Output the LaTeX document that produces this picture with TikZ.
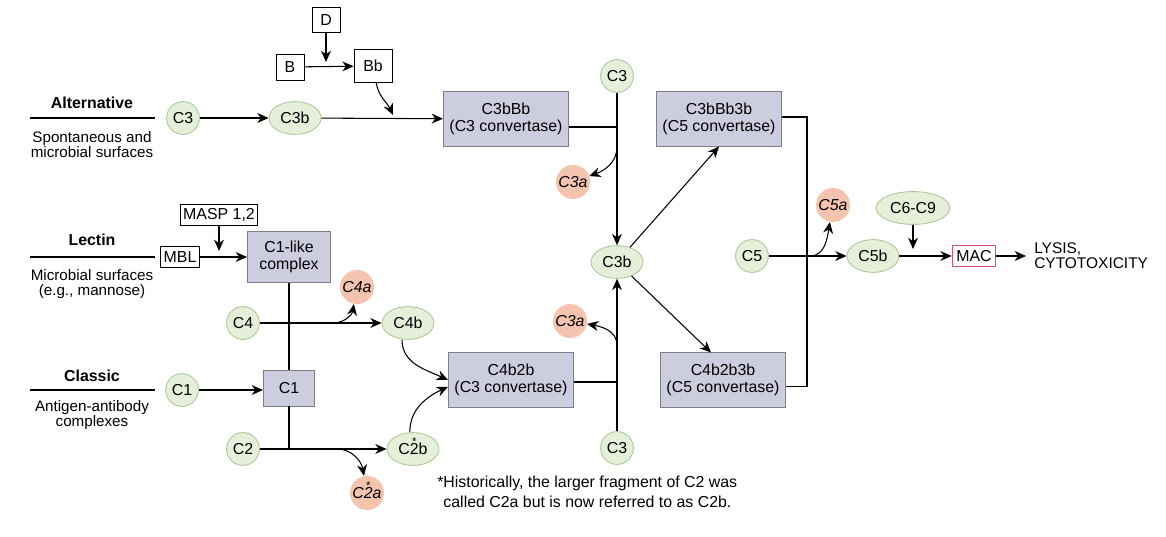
\documentclass[tikz,border=0pt]{standalone}
\usepackage{fontspec}
\setmainfont{Liberation Sans}
\usetikzlibrary{arrows.meta,shapes.geometric}
\definecolor{cmGreenFill}{HTML}{E5EFD9}
\definecolor{cmGreenLine}{HTML}{A9C795}
\definecolor{cmSalmon}{HTML}{F4C4AE}
\definecolor{cmBoxFill}{HTML}{CDCDE0}
\definecolor{cmBoxLine}{HTML}{7D7D8C}
\definecolor{cmMacRed}{HTML}{D4516B}
\newcommand{\cmFigMain}{\fontsize{11.3}{12}\selectfont}
\newcommand{\cmFigSub}{\fontsize{10.8}{10.6}\selectfont}
%% asterisk set over a single character (the renamed C2 fragments)
\newcommand{\cmStar}[1]{\setbox0\hbox{#1}%
  \rlap{\hbox to \wd0{\hss\smash{\raisebox{0.58em}{\fontsize{8}{8}\selectfont\upshape *}}\hss}}#1}
\tikzset{
  %% native proteins: small green discs; cleaved large fragments get the
  %% wider ellipse so the two read apart at a glance.
  cmprot/.style={
    circle, draw=cmGreenLine, fill=cmGreenFill, line width=0.6pt,
    inner sep=0pt, minimum size=0.82cm, font=\cmFigMain},
  cmprotw/.style={
    ellipse, draw=cmGreenLine, fill=cmGreenFill, line width=0.6pt,
    inner sep=0pt, minimum width=1.3cm, minimum height=0.82cm, font=\cmFigMain},
  %% released small fragments: no rule, italic
  cmfrag/.style={
    circle, fill=cmSalmon, inner sep=0pt, minimum size=0.85cm,
    font=\cmFigMain\itshape},
  %% enzyme complexes
  cmcplx/.style={
    rectangle, draw=cmBoxLine, fill=cmBoxFill, line width=0.7pt,
    inner sep=2pt, minimum width=3.125cm, minimum height=1.35cm,
    align=center, font=\cmFigMain},
  cmtag/.style={
    rectangle, draw=black, line width=0.6pt, inner xsep=2pt, inner ysep=1pt,
    minimum height=0.53cm, font=\cmFigMain},
  cmmac/.style={cmtag, draw=cmMacRed, inner xsep=3pt},
  cmflow/.style={-{Stealth[length=8pt,width=7pt,inset=2.5pt]}, draw=black,
    line width=0.75pt},
  cmlink/.style={draw=black, line width=0.75pt},
  cmhead/.style={font=\cmFigMain\bfseries, inner sep=0pt},
  cmsrc/.style={font=\cmFigSub, align=center, inner sep=0pt},
}

\begin{document}
\begin{tikzpicture}[x=0.025cm, y=-0.025cm]
\useasboundingbox (0,0) rectangle (1166,537);

%% ------------------------------------------------------------------
%% Coordinates are pixels of the 1166 x 537 layout, y running down.
%% ------------------------------------------------------------------

%% --- pathway headings (left) --------------------------------------
\node[cmhead] (althead) at (92,103) {Alternative};
\draw[cmlink] (30,118) -- (155,118);
\node[cmsrc]  (altsrc)  at (92,145) {Spontaneous and\\microbial surfaces};

\node[cmhead] (lechead) at (92,240) {Lectin};
\draw[cmlink] (30,257) -- (155,257);
\node[cmsrc]  (lecsrc)  at (92,284) {Microbial surfaces\\(e.g., mannose)};

\node[cmhead] (clahead) at (92,376) {Classic};
\draw[cmlink] (30,390) -- (155,390);
\node[cmsrc]  (clasrc)  at (92,415) {Antigen-antibody\\complexes};

%% --- alternative pathway ------------------------------------------
\node[cmprot]  (altc3)  at (183,118) {C3};
\node[cmprotw] (altc3b) at (295,118) {C3b};
\node[cmtag, minimum width=0.7cm, minimum height=0.63cm]  (facd)  at (326,20) {D};
\node[cmtag, minimum width=0.7cm, minimum height=0.65cm]  (facb)  at (290,67) {B};
\node[cmtag, minimum width=0.95cm, minimum height=0.83cm] (facbb) at (373,66) {Bb};
\node[cmcplx] (c3bbb) at (506,119) {C3bBb\\(C3 convertase)};

\draw[cmflow] (altc3)  -- (altc3b);
\draw[cmflow] (altc3b) -- (c3bbb);
\draw[cmflow] (facb)   -- (facbb);
\coordinate (dhit) at (326,62);
\draw[cmflow] (facd) -- (dhit);
\coordinate (bbhit) at (393,115);
\draw[cmflow] ([xshift=0.08cm]facbb.south) to[out=-80,in=115] (bbhit);

%% --- lectin pathway -----------------------------------------------
\node[cmtag] (mbl)  at (180,257) {MBL};
\node[cmtag] (masp) at (219,215) {MASP 1,2};
\node[cmcplx, minimum width=2.075cm, minimum height=1.275cm] (c1like)
  at (289,257) {C1-like\\complex};
\draw[cmflow] (mbl) -- (c1like);
\coordinate (masphit) at (219,251);
\draw[cmflow] (masp) -- (masphit);

%% --- classic pathway ----------------------------------------------
\node[cmprot] (c1) at (182,390) {C1};
\node[cmcplx, minimum width=1.275cm, minimum height=0.9cm] (c1box) at (289,388) {C1};
\draw[cmflow] (c1) -- (c1box.west |- c1);

%% C4 and C2 are cut by the C1 / C1-like enzymes
\node[cmprot]  (c4)  at (243,323) {C4};
\node[cmprotw] (c4b) at (408,323) {C4b};
\node[cmfrag]  (c4a) at (357,287) {C4a};
\draw[cmlink] (c1like) -- (c1box);
\draw[cmflow] (c4) -- (c4b);
\coordinate (c4split) at (333,323);
\draw[cmflow] (c4split) to[out=0,in=-100] (c4a);

\node[cmprot]  (c2)  at (243,449) {C2};
\node[cmprotw] (c2b) at (413,449) {C\cmStar{2}b};
\node[cmfrag]  (c2a) at (367,493) {C\cmStar{2}a};
\draw[cmlink] (c1box) -- (c1box |- c2);
\draw[cmflow] (c2) -- (c2b);
\coordinate (c2split) at (337,449);
\draw[cmflow] (c2split) to[out=0,in=100] (c2a);

\node[cmcplx] (c4b2b) at (511,380) {C4b2b\\(C3 convertase)};
\draw[cmflow] ([xshift=-0.15cm]c4b.south) to[out=-90,in=155] (c4b2b.west);
\draw[cmflow] ([xshift=-0.08cm]c2b.north) to[out=90,in=205]
  ([yshift=-0.17cm]c4b2b.west);

%% --- C3 cleavage spine --------------------------------------------
\node[cmprot]  (topc3) at (617,76)  {C3};
\node[cmprotw] (midc3b) at (617,262) {C3b};
\node[cmprot]  (botc3) at (617,448) {C3};
\node[cmfrag]  (topc3a) at (573,182) {C3a};
\node[cmfrag]  (botc3a) at (570,321) {C3a};

\coordinate (topjoin) at (617,127);
\coordinate (botjoin) at (617,382);
\draw[cmlink] (c3bbb.east |- topjoin) -- (topjoin);
\draw[cmlink] (c4b2b.east |- botjoin) -- (botjoin);
\draw[cmflow] (topc3) -- (midc3b);
\draw[cmflow] (botc3) -- (midc3b);
\coordinate (topsplit) at (617,147);
\coordinate (botsplit) at (617,345);
\draw[cmflow] (topsplit) to[out=-90,in=20]  (topc3a);
\draw[cmflow] (botsplit) to[out=90,in=-10]  (botc3a);

%% --- C5 convertases -----------------------------------------------
\node[cmcplx] (c3bbb3b) at (719,119) {C3bBb3b\\(C5 convertase)};
\node[cmcplx] (c4b2b3b) at (723,380) {C4b2b3b\\(C5 convertase)};
\draw[cmflow] (midc3b) -- (c3bbb3b.south);
\draw[cmflow] (midc3b) -- ([xshift=-0.3cm]c4b2b3b.north);

\coordinate (rjoin) at (807,256);
\draw[cmlink] ([yshift=0.05cm]c3bbb3b.east) -| (rjoin)
  |- ([yshift=-0.17cm]c4b2b3b.east);

%% --- terminal pathway ---------------------------------------------
\node[cmprot]  (c5)  at (752,256) {C5};
\node[cmprotw] (c5b) at (873,256) {C5b};
\node[cmfrag]  (c5a) at (833,205) {C5a};
\node[cmprotw, minimum width=1.85cm] (c69) at (913,208) {C6-C9};
\node[cmmac] (mac) at (974,256) {MAC};
\node[anchor=west, align=left, inner sep=0pt,
      font=\fontsize{11}{10.6}\selectfont] (lysis) at (1034,256)
  {LYSIS,\\CYTOTOXICITY};

\draw[cmflow] (c5) -- (c5b);
\coordinate (c5split) at (810,256);
\draw[cmflow] (c5split) to[out=0,in=-100] (c5a);
\draw[cmflow] (c5b) -- (mac);
\coordinate (c69hit) at (913,249);
\draw[cmflow] (c69) -- (c69hit);
\draw[cmflow] (mac) -- ([xshift=-0.2cm]lysis.west);

%% --- footnote -----------------------------------------------------
\node[anchor=north west, align=left, inner sep=0pt,
      font=\fontsize{11.3}{14}\selectfont] (note) at (437,476)
  {*Historically, the larger fragment of C2 was\\
   \phantom{*}called C2a but is now referred to as C2b.};

\end{tikzpicture}
\end{document}
